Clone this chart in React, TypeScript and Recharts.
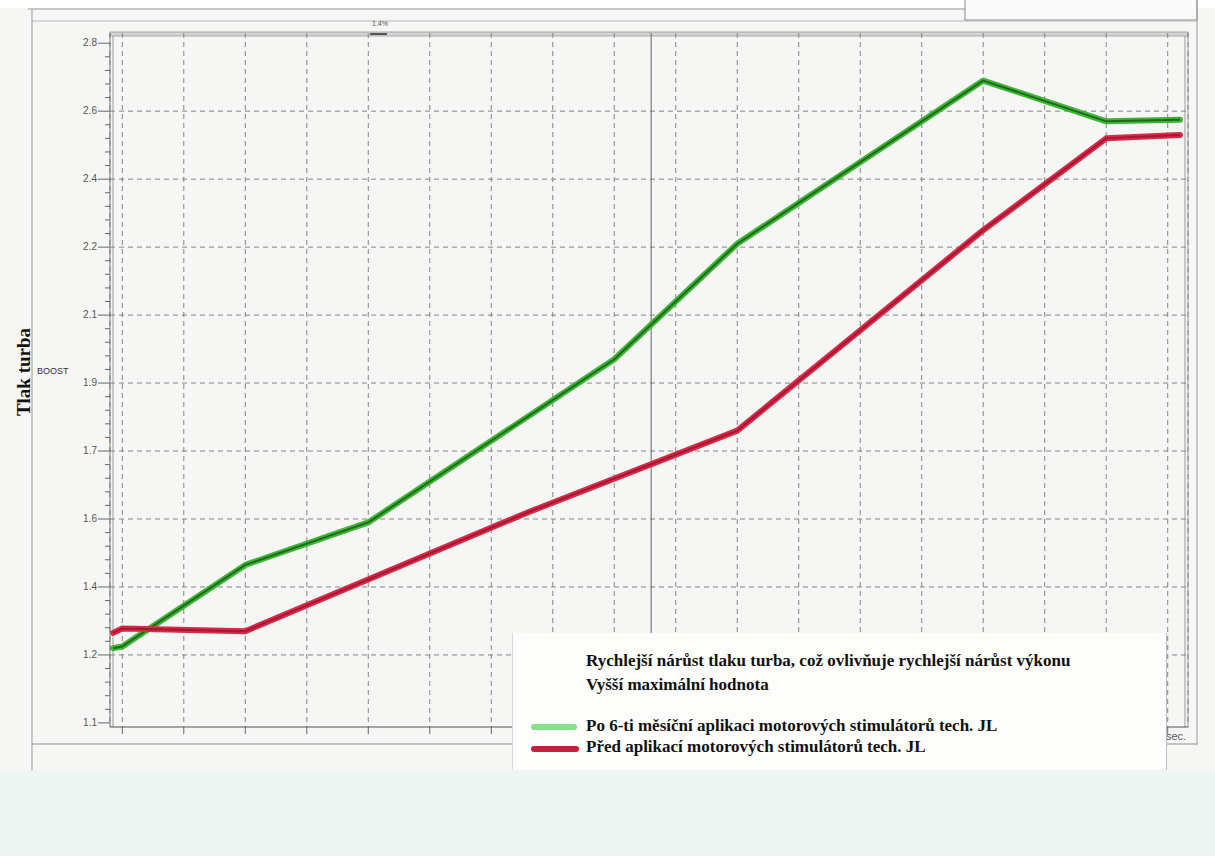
import React from "react";
import { CartesianGrid, Line, LineChart, ReferenceLine, XAxis, YAxis } from "recharts";

// Y labels as printed on the paper: evenly spaced, but the values are not linear
const yTickLabels = [1.1, 1.2, 1.4, 1.6, 1.7, 1.9, 2.1, 2.2, 2.4, 2.6, 2.8];
// vertical grid positions (time, sec. — no numbers printed)
const xTicks = [0, 1, 2, 3, 4, 5, 6, 7, 8, 9, 10, 11, 12, 13, 14, 15, 16, 17];

// Po 6-ti měsíční aplikaci (green)
const greenTime = [-0.15, 0, 2, 4, 8, 10, 14, 16, 17.2];
const greenBoost = [1.22, 1.225, 1.465, 1.59, 1.97, 2.21, 2.69, 2.57, 2.575];

// Před aplikací (red)
const redTime = [-0.15, 0, 2, 6.6, 10, 14, 16, 17.2];
const redBoost = [1.265, 1.278, 1.27, 1.61, 1.76, 2.25, 2.52, 2.53];

// thin cursor line on the printout
const cursorTime = 8.6;

const SERIF = '"Liberation Serif", "Times New Roman", serif';
const SANS = '"Liberation Sans", Arial, sans-serif';

// boost value -> position on the printed (piecewise) axis
function toIdx(v: number) {
  for (let i = 0; i < yTickLabels.length - 1; i++) {
    const a = yTickLabels[i];
    const b = yTickLabels[i + 1];
    if (v <= b || i === yTickLabels.length - 2) return i + (v - a) / (b - a);
  }
  return 0;
}

const greenData = greenTime.map((t, i) => ({ t, v: toIdx(greenBoost[i]) }));
const redData = redTime.map((t, i) => ({ t, v: toIdx(redBoost[i]) }));

const yTicks = Array.from({ length: (yTickLabels.length - 1) * 5 + 1 }, (_, i) => i / 5);
const gridRows = yTickLabels.map((_, i) => i).filter((i) => i > 0 && i < yTickLabels.length - 1);

function YTick(props: any) {
  const { x, y, payload } = props;
  const v = payload.value as number;
  const major = Math.abs(v - Math.round(v)) < 1e-6;
  return (
    <g>
      <line x1={x - (major ? 12 : 5)} x2={x} y1={y} y2={y} stroke="#666" strokeWidth={1} />
      {major && (
        <text x={x - 13} y={y} dy={3} textAnchor="end" fontSize={10} fill="#555" fontFamily={SANS}>
          {String(yTickLabels[Math.round(v)])}
        </text>
      )}
    </g>
  );
}

export default function App() {
  return (
    <div style={{ position: "absolute", left: 0, top: 0, width: 1215, height: 856, overflow: "hidden", background: "#edf6f2" }}>
      {/* paper background and frames */}
      <svg width={1215} height={856} style={{ position: "absolute", left: 0, top: 0 }}>
        <rect x={0} y={0} width={1215} height={770} fill="#f6f6f5" />
        <rect x={0} y={0} width={1215} height={8} fill="#ffffff" />
        <line x1={28} x2={965} y1={9} y2={9} stroke="#9a9a9a" />
        <rect x={965} y={-2} width={232} height={22} fill="#fafafa" stroke="#8a8a8a" />
        <line x1={32} x2={1197} y1={21} y2={21} stroke="#b5b5b5" />
        <line x1={32} x2={32} y1={9} y2={770} stroke="#999" />
        <line x1={1197} x2={1197} y1={0} y2={745} stroke="#999" />
        <line x1={32} x2={1197} y1={744} y2={744} stroke="#8f8f8f" />
        <rect x={110} y={32} width={1078} height={4} fill="#d4d4d4" stroke="#9a9a9a" strokeWidth={0.8} />
        <line x1={113} x2={113} y1={36} y2={727} stroke="#9a9a9a" />
        <line x1={1185} x2={1185} y1={36} y2={727} stroke="#9a9a9a" />
        <line x1={1188} x2={1188} y1={32} y2={727} stroke="#9a9a9a" />
        <rect x={370} y={33} width={17} height={2} fill="#555" />
        <text x={372} y={26} fontSize={7} fill="#555" fontFamily={SANS}>1.4%</text>
      </svg>

      <div style={{ position: "absolute", left: 0, top: 0 }}>
        <LineChart width={1215} height={856} margin={{ top: 33, right: 27, left: 60, bottom: 119 }}>
          <CartesianGrid horizontal={false} vertical strokeDasharray="5 4" stroke="#858585" />
          {gridRows.map((r) => (
            <ReferenceLine key={r} y={r} stroke="#858585" strokeDasharray="5 4" />
          ))}
          <ReferenceLine x={cursorTime} stroke="#666" strokeWidth={1} />
          <XAxis
            type="number"
            dataKey="t"
            domain={[-0.2, 17.33]}
            ticks={xTicks}
            allowDataOverflow
            height={10}
            tickSize={7}
            tickFormatter={() => ""}
            stroke="#555"
            tickLine={{ stroke: "#666" }}
          />
          <YAxis
            type="number"
            dataKey="v"
            domain={[-0.06, 10.15]}
            ticks={yTicks}
            allowDataOverflow
            interval={0}
            width={50}
            tickSize={0}
            tickMargin={0}
            tickLine={false}
            tick={<YTick />}
            stroke="#777"
          />
          <Line data={greenData} dataKey="v" stroke="#3db536" strokeWidth={6} dot={false} strokeLinejoin="round" strokeLinecap="round" isAnimationActive={false} />
          <Line data={greenData} dataKey="v" stroke="#1f6a18" strokeWidth={2} dot={false} strokeLinejoin="round" isAnimationActive={false} />
          <Line data={redData} dataKey="v" stroke="#d52a48" strokeWidth={6} dot={false} strokeLinejoin="round" strokeLinecap="round" isAnimationActive={false} />
          <Line data={redData} dataKey="v" stroke="#a8162f" strokeWidth={2} dot={false} strokeLinejoin="round" isAnimationActive={false} />
        </LineChart>
      </div>

      {/* axis titles */}
      <div
        style={{
          position: "absolute",
          left: 24,
          top: 372,
          transform: "translate(-50%, -50%) rotate(-90deg)",
          fontFamily: SERIF,
          fontWeight: "bold",
          fontSize: 19,
          color: "#111",
          whiteSpace: "nowrap",
        }}
      >
        Tlak turba
      </div>
      <div style={{ position: "absolute", left: 37, top: 366, fontFamily: SANS, fontSize: 9, color: "#333" }}>BOOST</div>
      <div style={{ position: "absolute", left: 1166, top: 730, fontFamily: SANS, fontSize: 11, color: "#555" }}>sec.</div>

      {/* legend note pasted on the printout */}
      <div
        style={{
          position: "absolute",
          left: 512,
          top: 633,
          width: 653,
          height: 137,
          background: "#fdfdfc",
          borderLeft: "1px solid #d8d8d8",
          borderRight: "1px solid #bdbdbd",
          fontFamily: SERIF,
          fontWeight: "bold",
          fontSize: 17,
          color: "#111",
        }}
      >
        <div style={{ position: "absolute", left: 73, top: 18, whiteSpace: "nowrap" }}>
          Rychlejší nárůst tlaku turba, což ovlivňuje rychlejší nárůst výkonu
        </div>
        <div style={{ position: "absolute", left: 73, top: 42, whiteSpace: "nowrap" }}>Vyšší maximální hodnota</div>
        <div style={{ position: "absolute", left: 18, top: 91, width: 46, height: 6, borderRadius: 3, background: "#86e08c" }} />
        <div style={{ position: "absolute", left: 73, top: 83, whiteSpace: "nowrap" }}>
          Po 6-ti měsíční aplikaci motorových stimulátorů tech. JL
        </div>
        <div style={{ position: "absolute", left: 18, top: 113, width: 48, height: 6, borderRadius: 3, background: "#c81f3c" }} />
        <div style={{ position: "absolute", left: 73, top: 104, whiteSpace: "nowrap" }}>
          Před aplikací motorových stimulátorů tech. JL
        </div>
      </div>
    </div>
  );
}
